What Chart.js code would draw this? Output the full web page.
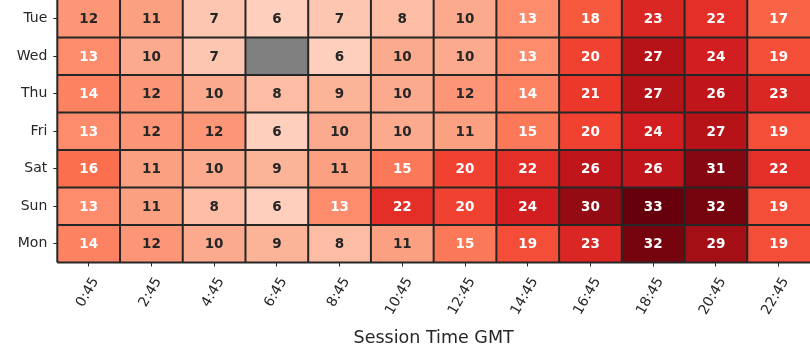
<!DOCTYPE html>
<html><head><meta charset="utf-8">
<script src="https://cdn.jsdelivr.net/npm/chart.js@4"></script>
<style>html,body{margin:0;padding:0;background:#fff;}canvas{display:block;}</style>
</head><body>
<canvas id="c" width="810" height="360"></canvas>
<script>
const days = ['Tue','Wed','Thu','Fri','Sat','Sun','Mon'];
const times = ['0:45','2:45','4:45','6:45','8:45','10:45','12:45','14:45','16:45','18:45','20:45','22:45'];
const tue = [12,11,7,6,7,8,10,13,18,23,22,17];
const wed = [13,10,7,null,6,10,10,13,20,27,24,19];
const thu = [14,12,10,8,9,10,12,14,21,27,26,23];
const fri = [13,12,12,6,10,10,11,15,20,24,27,19];
const sat = [16,11,10,9,11,15,20,22,26,26,31,22];
const sun = [13,11,8,6,13,22,20,24,30,33,32,19];
const mon = [14,12,10,9,8,11,15,19,23,32,29,19];
const rows = [tue, wed, thu, fri, sat, sun, mon];
const vmin = 0, vmax = 33;

const reds = [[255,245,240],[254,224,210],[252,187,161],[252,146,114],[251,106,74],[239,59,44],[203,24,29],[165,15,21],[103,0,13]];
function cmap(v){
  if (v == null) return [128,128,128];
  let t = (v - vmin) / (vmax - vmin);
  t = Math.max(0, Math.min(1, t));
  const p = t * (reds.length - 1);
  const i = Math.min(reds.length - 2, Math.floor(p));
  const f = p - i;
  return reds[i].map((c, k) => c + (reds[i+1][k] - c) * f);
}
function rgb(a){ return 'rgb(' + a.map(Math.round).join(',') + ')'; }
function lum(a){
  const l = a.map(c => { c /= 255; return c <= 0.03928 ? c / 12.92 : Math.pow((c + 0.055) / 1.055, 2.4); });
  return 0.2126*l[0] + 0.7152*l[1] + 0.0722*l[2];
}

const datasets = times.map((t, c) => ({
  label: t,
  data: days.map(() => [c, c + 1]),
  backgroundColor: rows.map(r => rgb(cmap(r[c]))),
  borderWidth: 0,
  grouped: false,
  barPercentage: 1,
  categoryPercentage: 1
}));

const FONT = '"DejaVu Sans", sans-serif';
const cellPlugin = {
  id: 'cells',
  afterDatasetsDraw(chart) {
    const {ctx, scales: {x, y}} = chart;
    ctx.save();
    ctx.strokeStyle = '#262626';
    ctx.lineWidth = 2;
    const top = y.getPixelForValue(-0.5), bottom = y.getPixelForValue(days.length - 0.5);
    const left = x.getPixelForValue(0), right = x.getPixelForValue(times.length);
    ctx.beginPath();
    for (let i = 0; i < times.length; i++) {
      const px = x.getPixelForValue(i);
      ctx.moveTo(px, top); ctx.lineTo(px, bottom);
    }
    for (let r = 1; r <= days.length; r++) {
      const py = y.getPixelForValue(r - 0.5);
      ctx.moveTo(left, py); ctx.lineTo(right, py);
    }
    ctx.stroke();
    ctx.font = 'bold 13.5px ' + FONT;
    ctx.textAlign = 'center';
    ctx.textBaseline = 'middle';
    chart.data.datasets.forEach((ds, c) => {
      const meta = chart.getDatasetMeta(c);
      meta.data.forEach((bar, r) => {
        const v = rows[r][c];
        if (v == null) return;
        ctx.fillStyle = lum(cmap(v)) > 0.408 ? '#262626' : '#ffffff';
        ctx.fillText(String(v), (bar.x + bar.base) / 2, bar.y + 1);
      });
    });
    ctx.restore();
  }
};

new Chart(document.getElementById('c'), {
  type: 'bar',
  data: { labels: days, datasets },
  options: {
    indexAxis: 'y',
    responsive: false,
    animation: false,
    devicePixelRatio: 1,
    layout: { padding: 0 },
    plugins: { legend: { display: false }, tooltip: { enabled: false } },
    scales: {
      x: {
        type: 'linear', position: 'bottom', min: 0, max: 12,
        afterBuildTicks: axis => { axis.ticks = times.map((t, i) => ({ value: i + 0.5 })); },
        afterFit: s => { s.height = 97.5; s.paddingLeft = 0; s.paddingRight = 0; },
        ticks: {
          callback: (v, i) => times[i],
          autoSkip: false, minRotation: 60, maxRotation: 60,
          font: { family: FONT, size: 14 }, color: '#262626',
          padding: 8, labelOffset: 7
        },
        grid: { drawOnChartArea: false, drawTicks: true, tickLength: 4, color: '#262626', lineWidth: 1 },
        border: { display: false },
        title: { display: true, text: 'Session Time GMT', font: { family: FONT, size: 17.5 }, color: '#262626', padding: { top: 0, bottom: 11 } }
      },
      y: {
        type: 'category', offset: true,
        afterFit: s => { s.width = 57.3; s.paddingTop = 0; s.paddingBottom = 0; },
        ticks: { font: { family: FONT, size: 14 }, color: '#262626', padding: 6 },
        grid: { offset: false, drawOnChartArea: false, drawTicks: true, tickLength: 4, color: '#262626', lineWidth: 1 },
        border: { display: false }
      }
    }
  },
  plugins: [cellPlugin]
});
</script>
</body></html>
